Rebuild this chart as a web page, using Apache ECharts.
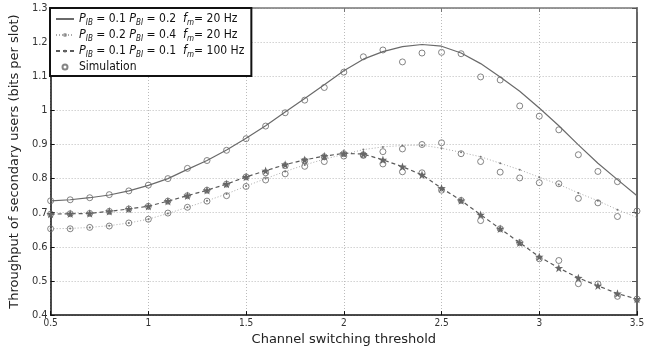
<!DOCTYPE html>
<html>
<head>
<meta charset="utf-8">
<script src="https://cdn.jsdelivr.net/npm/echarts@6/dist/echarts.min.js"></script>
<style>
  html, body { margin: 0; padding: 0; background: #fff; }
  #chart { width: 663px; height: 351px; }
</style>
</head>
<body>
<div id="chart"></div>
<script>
// channel switching threshold (x)
const thresholds = [0.5, 0.6, 0.7, 0.8, 0.9, 1.0, 1.1, 1.2, 1.3, 1.4, 1.5, 1.6, 1.7, 1.8, 1.9, 2.0,
                    2.1, 2.2, 2.3, 2.4, 2.5, 2.6, 2.7, 2.8, 2.9, 3.0, 3.1, 3.2, 3.3, 3.4, 3.5];

// analytic curves
const curveA = [0.735, 0.738, 0.744, 0.752, 0.764, 0.780, 0.800, 0.827, 0.853, 0.884, 0.918, 0.955, 0.995, 1.035, 1.075, 1.116,
                1.150, 1.172, 1.187, 1.193, 1.188, 1.168, 1.137, 1.098, 1.056, 1.007, 0.955, 0.899, 0.845, 0.797, 0.750];
const curveB = [0.653, 0.654, 0.657, 0.662, 0.670, 0.681, 0.698, 0.716, 0.735, 0.755, 0.778, 0.800, 0.821, 0.840, 0.857, 0.871,
                0.885, 0.893, 0.897, 0.898, 0.889, 0.877, 0.864, 0.845, 0.826, 0.804, 0.783, 0.758, 0.735, 0.709, 0.686];
const curveC = [0.696, 0.697, 0.698, 0.704, 0.711, 0.719, 0.734, 0.750, 0.766, 0.784, 0.805, 0.823, 0.841, 0.855, 0.866, 0.874,
                0.872, 0.855, 0.835, 0.811, 0.772, 0.736, 0.694, 0.653, 0.612, 0.571, 0.538, 0.509, 0.486, 0.463, 0.447];

// simulation points
const simA = [0.735, 0.738, 0.744, 0.753, 0.764, 0.781, 0.800, 0.830, 0.853, 0.883, 0.917, 0.954, 0.993, 1.030, 1.067, 1.112,
              1.157, 1.177, 1.142, 1.168, 1.170, 1.166, 1.098, 1.089, 1.013, 0.983, 0.943, 0.870, 0.821, 0.791, null];
const simB = [0.653, 0.653, 0.657, 0.661, 0.670, 0.681, 0.699, 0.716, 0.734, 0.750, 0.777, 0.796, 0.814, 0.836, 0.850, 0.866,
              0.868, 0.879, 0.887, 0.900, 0.905, 0.873, 0.850, 0.819, 0.802, 0.788, 0.785, 0.742, 0.729, 0.689, 0.705];
const simC = [0.696, 0.697, 0.698, 0.704, 0.711, 0.719, 0.734, 0.750, 0.766, 0.784, 0.805, 0.817, 0.838, 0.852, 0.864, 0.873,
              0.870, 0.843, 0.820, 0.817, 0.766, 0.736, 0.677, 0.653, 0.612, 0.565, 0.560, 0.492, 0.491, 0.455, 0.447];

const legendText = {
  A: '{i|P}{s|IB} = 0.1 {i|P}{s|BI} = 0.2  {i|f}{s|m}= 20 Hz',
  B: '{i|P}{s|IB} = 0.2 {i|P}{s|BI} = 0.4  {i|f}{s|m}= 20 Hz',
  C: '{i|P}{s|IB} = 0.1 {i|P}{s|BI} = 0.1  {i|f}{s|m}= 100 Hz',
  Simulation: 'Simulation'
};

const starPath = 'path://M0,-10L2.35,-3.24L9.51,-3.09L3.8,1.24L5.88,8.09L0,4L-5.88,8.09L-3.8,1.24L-9.51,-3.09L-2.35,-3.24Z';
const tickFont = '"DejaVu Sans Condensed", "DejaVu Sans", sans-serif';
const textFont = '"DejaVu Sans", sans-serif';

const pairs = (ys) => thresholds.map((x, i) => [x, ys[i]]);

const simStyle = {
  type: 'scatter',
  name: 'Simulation',
  symbol: 'circle',
  symbolSize: 6,
  itemStyle: { color: 'rgba(255,255,255,0)', borderColor: '#666', borderWidth: 1 },
  z: 5
};

const chart = echarts.init(document.getElementById('chart'));

chart.setOption({
  animation: false,
  backgroundColor: '#fff',
  grid: { left: 50, right: 26, top: 8, bottom: 34 },
  legend: {
    data: [
      { name: 'A', itemStyle: { opacity: 0 } },
      { name: 'B', itemStyle: { opacity: 0.7 } },
      'C',
      'Simulation'
    ],
    orient: 'vertical',
    left: 50,
    top: 8,
    padding: [3, 7, 1, 5],
    itemGap: 0,
    itemWidth: 18,
    itemHeight: 5,
    borderColor: '#111',
    borderWidth: 2,
    backgroundColor: '#fff',
    formatter: (name) => legendText[name],
    textStyle: {
      fontFamily: tickFont,
      fontSize: 12,
      lineHeight: 16,
      color: '#111',
      rich: {
        i: { fontFamily: tickFont, fontSize: 12.5, fontStyle: 'italic', lineHeight: 16, color: '#111' },
        s: { fontFamily: tickFont, fontSize: 8, fontStyle: 'italic', verticalAlign: 'bottom', lineHeight: 9, color: '#111' }
      }
    }
  },
  xAxis: [{
    type: 'value',
    min: 0.5,
    max: 3.5,
    interval: 0.5,
    position: 'bottom',
    name: 'Channel switching threshold',
    nameLocation: 'middle',
    nameGap: 15,
    nameTextStyle: { fontFamily: textFont, fontSize: 13, color: '#222' },
    axisLine: { onZero: false, lineStyle: { color: '#111', width: 1.5 } },
    axisTick: { inside: true, length: 4, lineStyle: { color: '#111' } },
    axisLabel: { margin: 3, fontSize: 10, fontFamily: tickFont, color: '#333' },
    splitLine: { show: true, lineStyle: { color: '#bbb', type: [1, 2] } }
  }, {
    type: 'value',
    min: 0.5,
    max: 3.5,
    interval: 0.5,
    position: 'top',
    axisLine: { onZero: false, lineStyle: { color: '#777', width: 1.5 } },
    axisTick: { inside: true, length: 4, lineStyle: { color: '#777' } },
    axisLabel: { show: false },
    splitLine: { show: false }
  }],
  yAxis: [{
    type: 'value',
    min: 0.4,
    max: 1.3,
    interval: 0.1,
    position: 'left',
    name: 'Throughput of secondary users (bits per slot)',
    nameLocation: 'middle',
    nameGap: 28,
    nameTextStyle: { fontFamily: textFont, fontSize: 13, color: '#222' },
    axisLine: { show: true, onZero: false, lineStyle: { color: '#111', width: 1.5 } },
    axisTick: { show: true, inside: true, length: 4, lineStyle: { color: '#111' } },
    axisLabel: { margin: 3, fontSize: 11, fontFamily: tickFont, color: '#333' },
    splitLine: { show: true, lineStyle: { color: '#bbb', type: [1, 2] } }
  }, {
    type: 'value',
    min: 0.4,
    max: 1.3,
    interval: 0.1,
    position: 'right',
    axisLine: { show: true, onZero: false, lineStyle: { color: '#666', width: 2 } },
    axisTick: { show: true, inside: true, length: 5, lineStyle: { color: '#555' } },
    axisLabel: { show: false },
    splitLine: { show: false }
  }],
  series: [
    {
      name: 'A',
      type: 'line',
      data: pairs(curveA),
      symbol: 'none',
      lineStyle: { color: '#6a6a6a', width: 1.2 },
      itemStyle: { color: '#6a6a6a' },
      z: 3
    },
    {
      name: 'B',
      type: 'line',
      data: pairs(curveB),
      symbol: 'circle',
      symbolSize: 2,
      lineStyle: { color: '#aaa', width: 1, type: [1, 2] },
      itemStyle: { color: '#777' },
      z: 3
    },
    {
      name: 'C',
      type: 'line',
      data: pairs(curveC),
      symbol: starPath,
      symbolSize: 8.5,
      lineStyle: { color: '#5a5a5a', width: 1.2, type: [4, 3] },
      itemStyle: { color: '#666' },
      z: 4
    },
    Object.assign({ data: pairs(simA) }, simStyle),
    Object.assign({ data: pairs(simB) }, simStyle),
    Object.assign({ data: pairs(simC) }, simStyle)
  ]
});
</script>
</body>
</html>
